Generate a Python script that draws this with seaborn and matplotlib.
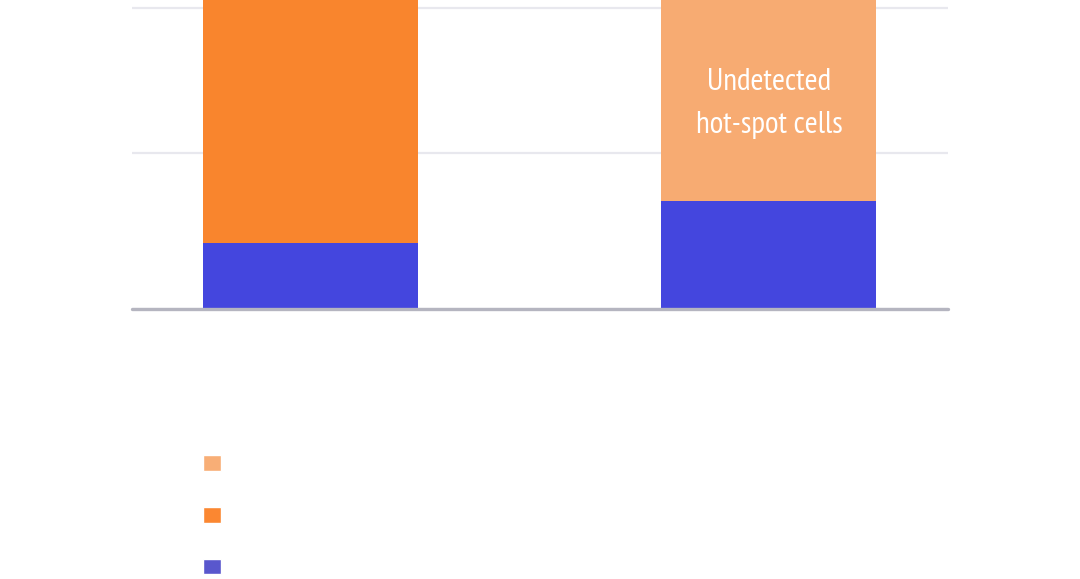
import numpy as np
import pandas as pd
import matplotlib
matplotlib.use("Agg")
import matplotlib.pyplot as plt
from matplotlib.patches import Patch
import seaborn as sns

# values (percent of cells)
groups = ["Group A", "Group B"]
other_cells = [21.2, 34.7]
hotspot_cells = [78.8, 65.3]
hotspot_kind = ["Detected hot-spot cells", "Undetected hot-spot cells"]
grid_values = [0, 50, 96.5]

blue = "#4446DE"
orange = "#F9852D"
light_orange = "#F7AB72"
kind_colors = {"Detected hot-spot cells": orange, "Undetected hot-spot cells": light_orange}

sns.set_theme(style="white")
plt.rcParams["font.family"] = ["DejaVu Sans"]
narrow = ["PT Sans Narrow", "IBM Plex Sans Condensed", "DejaVu Sans"]

fig = plt.figure(figsize=(10.8, 5.79), dpi=100)
ax = fig.add_axes([132 / 1080, 1 - 308.5 / 579, 816 / 1080, 308.5 / 579])

totals = pd.DataFrame({
    "group": groups,
    "value": np.array(other_cells) + np.array(hotspot_cells),
    "kind": hotspot_kind,
})
base = pd.DataFrame({"group": groups, "value": other_cells})

sns.barplot(data=totals, x="group", y="value", hue="kind", palette=kind_colors,
            dodge=False, width=0.47, legend=False, ax=ax, zorder=2, linewidth=0)
sns.barplot(data=base, x="group", y="value", color=blue, width=0.47,
            ax=ax, zorder=3, linewidth=0, saturation=1)
for p in ax.patches:
    p.set_linewidth(0)

# seaborn desaturates hue colours a bit, set them back
for p, g in zip(ax.patches[:2], hotspot_kind):
    p.set_facecolor(kind_colors[g])

ax.set_xlim(-0.390, 1.393)
ax.set_ylim(0, 308.5 / 3.11)
ax.set_yticks(grid_values)
ax.grid(axis="y", color="#E8E8EE", linewidth=1.6, zorder=0)
ax.set_axisbelow(True)
ax.axhline(0, color="#B5B5C0", linewidth=2.4, zorder=4, clip_on=False)
ax.tick_params(left=False, bottom=False, labelleft=False, labelbottom=False)
ax.set_xlabel("")
ax.set_ylabel("")
for s in ax.spines.values():
    s.set_visible(False)

ax.text(1.003, 66.0, "Undetected\nhot-spot cells", color="white", fontsize=22.5,
        family=narrow, ha="center", va="center", linespacing=1.7, zorder=5)

handles = [Patch(facecolor="#F8AE76"), Patch(facecolor="#FB8731"), Patch(facecolor="#5957CD")]
fig.legend(handles, ["", "", ""], loc="upper left",
           bbox_to_anchor=(203 / 1080, 1 - 455 / 579), frameon=False,
           borderpad=0, borderaxespad=0, handlelength=1.06, handleheight=1.06,
           labelspacing=1.98, prop={"size": 12.24, "family": "DejaVu Sans"})

fig.savefig("out.png", dpi=100)
